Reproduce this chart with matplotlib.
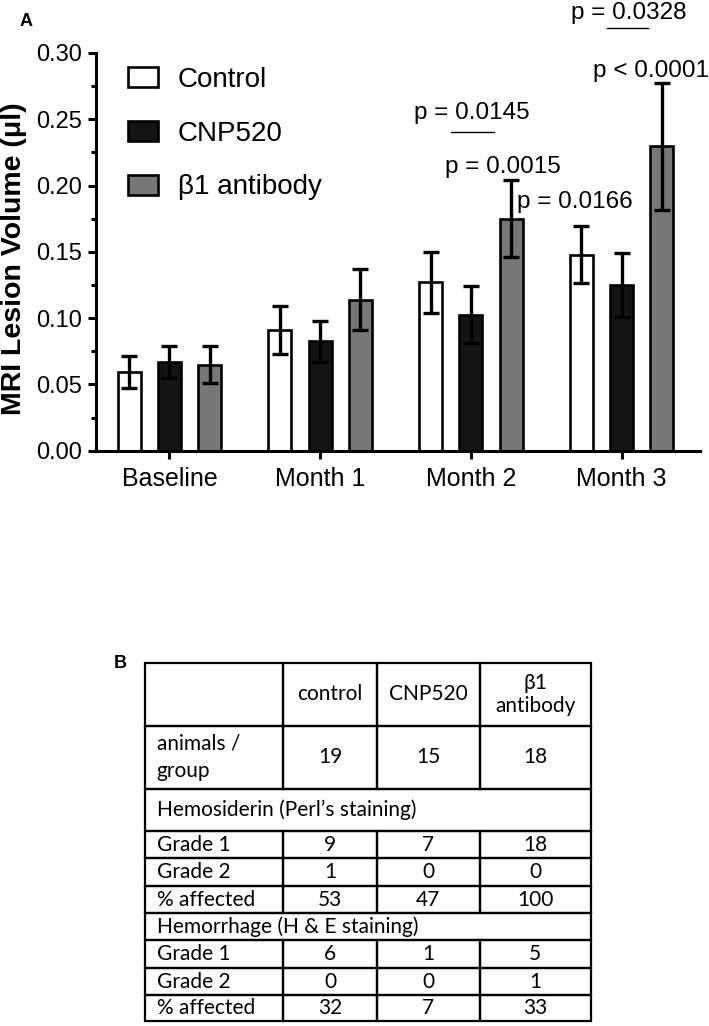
import numpy as np
import matplotlib.pyplot as plt
from matplotlib.ticker import MultipleLocator

plt.rcParams['font.family'] = ['Liberation Sans', 'DejaVu Sans']

# panel A data
timepoints = ['Baseline', 'Month 1', 'Month 2', 'Month 3']
groups = ['Control', 'CNP520', '\u03b21 antibody']
control_mean = [0.0595, 0.091, 0.127, 0.148]
control_sem = [0.012, 0.018, 0.023, 0.0215]
cnp_mean = [0.067, 0.0825, 0.1027, 0.125]
cnp_sem = [0.0122, 0.0154, 0.0216, 0.0244]
beta_mean = [0.065, 0.1137, 0.175, 0.2295]
beta_sem = [0.0137, 0.023, 0.029, 0.048]

# p-value annotations (text, x, y in data units)
p_texts = ['p = 0.0328', 'p < 0.0001', 'p = 0.0145', 'p = 0.0015', 'p = 0.0166']
p_x = [3.048, 3.197, 2.009, 2.214, 2.689]
p_y = [0.326, 0.282, 0.2501, 0.2097, 0.1828]
bracket_x0 = [2.901, 1.871]
bracket_x1 = [3.173, 2.154]
bracket_y = [0.319, 0.2401]

# panel B table
col_labels = ['', 'control', 'CNP520', '\u03b21\nantibody']
table_rows = [
    ['animals /\ngroup', '19', '15', '18'],
    ['Hemosiderin (Perl\u2019s staining)', '', '', ''],
    ['Grade 1', '9', '7', '18'],
    ['Grade 2', '1', '0', '0'],
    ['% affected', '53', '47', '100'],
    ['Hemorrhage (H & E staining)', '', '', ''],
    ['Grade 1', '6', '1', '5'],
    ['Grade 2', '0', '0', '1'],
    ['% affected', '32', '7', '33'],
]
section_rows = [2, 6]
row_heights = [63, 63, 42, 27.7, 27.7, 27.3, 27, 28, 27, 25.5]
col_widths = [138.3, 93.4, 103.3, 110.7]

W, H = 709, 1026
fig = plt.figure(figsize=(W / 100, H / 100), dpi=100)

ax = fig.add_axes([96 / W, 1 - 450.7 / H, 604 / W, 397.7 / H])
colors = ['white', '#141414', '#777777']
means = [control_mean, cnp_mean, beta_mean]
sems = [control_sem, cnp_sem, beta_sem]
x = np.arange(len(timepoints))
offset = 0.267
width = 0.152
for i in range(3):
    xi = x + (i - 1) * offset
    ax.bar(xi, means[i], width, color=colors[i], edgecolor='black',
           linewidth=1.9, label=groups[i], zorder=2)
    ax.errorbar(xi, means[i], yerr=sems[i], fmt='none', ecolor='black',
                elinewidth=2.4, capsize=5.5, capthick=2.4, zorder=3)

for t, px, py in zip(p_texts, p_x, p_y):
    ax.text(px, py, t, ha='center', va='baseline', fontsize=17.5, clip_on=False)
for a, b, yy in zip(bracket_x0, bracket_x1, bracket_y):
    ax.plot([a, b], [yy, yy], color='black', lw=1.0, clip_on=False)

ax.set_xlim(-0.487, 3.52)
ax.set_ylim(0, 0.30)
ax.set_xticks(x)
ax.set_xticklabels(timepoints)
ax.yaxis.set_major_locator(MultipleLocator(0.05))
ax.yaxis.set_minor_locator(MultipleLocator(0.025))
ax.yaxis.set_major_formatter(plt.FormatStrFormatter('%.2f'))
ax.spines['top'].set_visible(False)
ax.spines['right'].set_visible(False)
ax.spines['left'].set_linewidth(2.2)
ax.spines['bottom'].set_linewidth(2.2)
ax.tick_params(axis='y', which='major', length=5.8, width=2.2, labelsize=17, pad=4)
ax.tick_params(axis='y', which='minor', length=3.6, width=2.2)
ax.tick_params(axis='x', length=5.8, width=2.2, labelsize=18, pad=6)
ax.set_ylabel('MRI Lesion Volume (\u03bcl)', fontsize=20.5, fontweight='bold')
ax.yaxis.set_label_coords(-0.114, 0.484)

ax.legend(loc='upper left', bbox_to_anchor=(0.0535, 0.965), frameon=False,
          fontsize=20, handlelength=1.08, handleheight=0.72, handletextpad=0.7,
          labelspacing=1.0, borderpad=0, borderaxespad=0)

fig.text(26.5 / W, 1 - 21.5 / H, 'A', fontsize=13, fontweight='bold', ha='center', va='center')
fig.text(120.5 / W, 1 - 663.5 / H, 'B', fontsize=13, fontweight='bold', ha='center', va='center')

# table
tax = fig.add_axes([145 / W, 1 - 1021 / H, 445.7 / W, (1021 - 662.7) / H])
tax.axis('off')
cells = [col_labels] + table_rows
tbl = tax.table(cellText=cells, cellLoc='center', bbox=[0, 0, 1, 1])
tbl.auto_set_font_size(False)
tbl.set_fontsize(15)
ncol = len(col_labels)
for (r, c), cell in tbl.get_celld().items():
    cell.set_height(row_heights[r])
    cell.set_width(col_widths[c])
    cell.set_linewidth(1.6)
    cell.set_facecolor('none')
    cell.PAD = 0.085
    txt = cell.get_text()
    txt.set_fontfamily(['Lato', 'DejaVu Sans'])
    if r == 1 and c == 0:
        txt.set_linespacing(1.45)
    if c == 0:
        txt.set_horizontalalignment('left')
    if r in section_rows:
        if c == 0:
            cell.visible_edges = 'BTL'
        elif c == ncol - 1:
            cell.visible_edges = 'BTR'
        else:
            cell.visible_edges = 'BT'

fig.savefig('out.png', dpi=100)
